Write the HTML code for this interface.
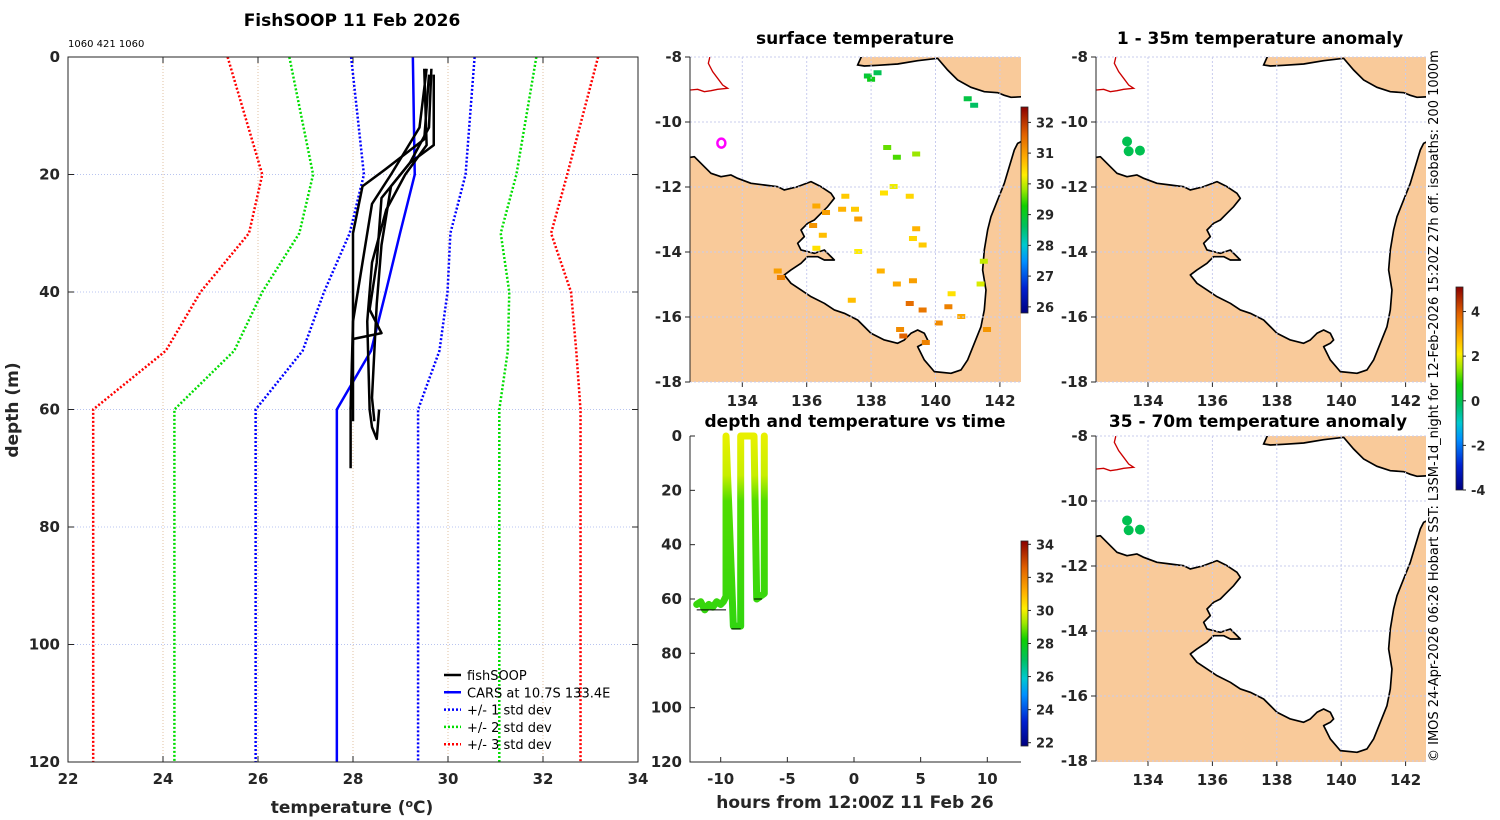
<!DOCTYPE html>
<html><head><meta charset="utf-8"><style>
html,body{margin:0;padding:0;background:#fff;}
svg{display:block;font-family:"DejaVu Sans","Liberation Sans",sans-serif;}
.tk{font-size:15px;font-weight:bold;fill:#262626;}
.ttl{font-size:17px;font-weight:bold;fill:#000;}
.lg{font-size:13px;font-weight:normal;fill:#000;}
</style></head><body>
<svg id="s" width="1500" height="820" viewBox="0 0 1500 820" xmlns="http://www.w3.org/2000/svg">
<defs>
<linearGradient id="cmap" x1="0" y1="1" x2="0" y2="0">
<stop offset="0" stop-color="#00007f"/><stop offset="0.12" stop-color="#0020d0"/><stop offset="0.25" stop-color="#0090ff"/><stop offset="0.33" stop-color="#00c8d0"/><stop offset="0.42" stop-color="#00c060"/><stop offset="0.52" stop-color="#10d000"/><stop offset="0.6" stop-color="#a0e800"/><stop offset="0.67" stop-color="#ffee00"/><stop offset="0.75" stop-color="#ffb000"/><stop offset="0.87" stop-color="#e06000"/><stop offset="1" stop-color="#8a0000"/>
</linearGradient>
<linearGradient id="dtg" gradientUnits="userSpaceOnUse" x1="0" y1="436" x2="0" y2="762">
<stop offset="0" stop-color="#e8f000"/><stop offset="0.12" stop-color="#c8ee00"/><stop offset="0.2" stop-color="#50dd00"/><stop offset="1" stop-color="#10cc20"/>
</linearGradient>
<clipPath id="c1"><rect x="690" y="57" width="331" height="325"/></clipPath>
<clipPath id="c2"><rect x="1096" y="57" width="330" height="325"/></clipPath>
<clipPath id="c3"><rect x="1096" y="436" width="330" height="326"/></clipPath>
</defs>
</svg>
<script>
// ---------- data ----------
const depthLevels = [0, 20, 30, 40, 50, 60, 120];
const carsMean = [29.26, 29.3, 28.99, 28.69, 28.38, 27.66, 27.66];
const carsStd = [1.3, 1.07, 1.06, 1.3, 1.44, 1.71, 1.71];
const stdMult = [1, 2, 3];
const stdColors = ['#0000ff', '#00dd00', '#ff0000'];
const prof1Depth = [2, 12, 20, 25, 35, 45, 60, 70];
const prof1Temp = [29.55, 29.4, 28.8, 28.4, 28.2, 28.0, 27.95, 27.95];
const prof2Depth = [3, 14, 19, 22, 30, 45, 55, 62];
const prof2Temp = [29.6, 29.5, 28.7, 28.2, 28.0, 28.0, 28.0, 28.0];
const prof3Depth = [2, 12, 18, 24, 35, 43, 47, 48, 60];
const prof3Temp = [29.65, 29.6, 29.2, 28.6, 28.5, 28.35, 28.6, 28.0, 27.95];
const prof4Depth = [2, 15, 20, 26, 35, 45, 60, 63, 65, 60];
const prof4Temp = [29.5, 29.55, 29.1, 28.7, 28.4, 28.3, 28.35, 28.4, 28.5, 28.55];
const prof5Depth = [3, 15, 18, 22, 32, 42, 50, 58, 62];
const prof5Temp = [29.7, 29.7, 29.2, 28.8, 28.6, 28.5, 28.45, 28.4, 28.45];
const tempTicks = [22, 24, 26, 28, 30, 32, 34];
const depthTicks = [0, 20, 40, 60, 80, 100, 120];
const lonTicks = [134, 136, 138, 140, 142];
const latTicks = [-8, -10, -12, -14, -16, -18];
const hourTicks = [-10, -5, 0, 5, 10];
const trackHours = [-11.8, -11.5, -11.2, -10.9, -10.6, -10.3, -10.0, -9.8, -9.6, -9.6, -9.05, -8.5, -8.5, -7.5, -7.3, -6.73, -6.73];
const trackDepth = [62, 61, 64, 62, 63, 61, 62, 61, 59, 0, 70, 70, 0, 0, 60, 58, 0];
const sstLon = [137.9,138.0,138.2,139.3,139.4,139.6,141.2,141.0,138.5,138.8,139.4,136.3,136.6,137.1,137.5,137.6,138.4,138.7,139.2,136.2,136.5,137.2,137.6,138.3,138.8,139.3,140.5,139.2,139.6,140.4,140.8,137.4,138.9,139.0,139.7,141.4,141.5,140.1,135.1,135.2,136.3,141.6];
const sstLat = [-8.6,-8.7,-8.5,-13.6,-13.3,-13.8,-9.5,-9.3,-10.8,-11.1,-11.0,-12.6,-12.8,-12.7,-12.7,-13.0,-12.2,-12.0,-12.3,-13.2,-13.5,-12.3,-14.0,-14.6,-15.0,-14.9,-15.3,-15.6,-15.8,-15.7,-16.0,-15.5,-16.4,-16.6,-16.8,-15.0,-14.3,-16.2,-14.6,-14.8,-13.9,-16.4];
const sstVal = [28.9,29.1,28.7,30.5,30.8,30.6,28.6,28.8,29.6,29.5,29.8,30.9,31.0,30.8,30.6,31.0,30.4,30.2,30.5,31.1,30.7,30.6,30.3,30.8,30.9,31.0,30.4,31.5,31.4,31.3,30.9,30.7,31.2,31.6,31.3,30.1,30.0,31.2,31.0,31.3,30.4,31.1];
const anomLon = [133.35, 133.4, 133.75];
const anomLatTop = [-10.6, -10.9, -10.88];
const anomLatBot = [-10.6, -10.9, -10.88];
const sstCbTicks = [26, 27, 28, 29, 30, 31, 32];
const dtCbTicks = [22, 24, 26, 28, 30, 32, 34];
const anCbTicks = [-4, -2, 0, 2, 4];

// ---------- helpers ----------
const S = document.getElementById('s');
const NS = 'http://www.w3.org/2000/svg';
function mk(tag, at, parent) {
  const e = document.createElementNS(NS, tag);
  for (const k in at) e.setAttribute(k, at[k]);
  (parent || S).appendChild(e);
  return e;
}
function txt(x, y, s, cls, anchor, parent) {
  const t = mk('text', {x: x, y: y, class: cls, 'text-anchor': anchor || 'middle'}, parent);
  t.textContent = s;
  return t;
}
const cstops = [[0,[0,0,127]],[0.12,[0,32,208]],[0.25,[0,144,255]],[0.33,[0,200,208]],[0.42,[0,192,96]],[0.52,[16,208,0]],[0.6,[160,232,0]],[0.67,[255,238,0]],[0.75,[255,176,0]],[0.87,[224,96,0]],[1,[138,0,0]]];
function cmap(f) {
  f = Math.max(0, Math.min(1, f));
  for (let i = 1; i < cstops.length; i++) {
    if (f <= cstops[i][0]) {
      const a = cstops[i-1], b = cstops[i], u = (f - a[0]) / (b[0] - a[0]);
      const c = a[1].map((v, j) => Math.round(v + (b[1][j] - v) * u));
      return 'rgb(' + c.join(',') + ')';
    }
  }
  return 'rgb(138,0,0)';
}

// ---------- left profile chart ----------
const X = t => 68 + (t - 22) * 47.5;
const Y = d => 57 + d * 705 / 120;
let t0 = txt(352, 26, 'FishSOOP 11 Feb 2026', 'ttl');


let t1 = txt(68, 47, '1060 421 1060', 'lg', 'start');
t1.setAttribute('style', 'font-size:10px');


tempTicks.forEach(v => {
  const g = mk('line', {x1: X(v), x2: X(v), y1: 57, y2: 762, stroke: '#e0c0a0', 'stroke-width': 1, 'stroke-dasharray': '1,2'});
  
  
  mk('line', {x1: X(v), x2: X(v), y1: 762, y2: 756, stroke: '#262626'});
  mk('line', {x1: X(v), x2: X(v), y1: 57, y2: 63, stroke: '#262626'});
  const l = txt(X(v), 784, String(v), 'tk');
  
  
});
depthTicks.forEach(v => {
  const g = mk('line', {x1: 68, x2: 638, y1: Y(v), y2: Y(v), stroke: '#b8c4f0', 'stroke-width': 1, 'stroke-dasharray': '1,2'});
  
  
  mk('line', {x1: 68, x2: 74, y1: Y(v), y2: Y(v), stroke: '#262626'});
  mk('line', {x1: 638, x2: 632, y1: Y(v), y2: Y(v), stroke: '#262626'});
  const l = txt(60, Y(v) + 5, String(v), 'tk', 'end');
  
  
});
stdMult.forEach((k, i) => {
  [-1, 1].forEach(sg => {
    const pts = depthLevels.map((d, j) => X(carsMean[j] + sg * k * carsStd[j]) + ',' + Y(d)).join(' ');
    const p = mk('polyline', {points: pts, fill: 'none', stroke: stdColors[i], 'stroke-width': 2.5, 'stroke-dasharray': '2,2'});
    
    
  });
});
const cars = mk('polyline', {points: depthLevels.map((d, j) => X(carsMean[j]) + ',' + Y(d)).join(' '), fill: 'none', stroke: '#0000ff', 'stroke-width': 2.5});


[[prof1Depth, prof1Temp], [prof2Depth, prof2Temp], [prof3Depth, prof3Temp], [prof4Depth, prof4Temp], [prof5Depth, prof5Temp]].forEach((p, i) => {
  const pl = mk('polyline', {points: p[0].map((d, j) => X(p[1][j]) + ',' + Y(d)).join(' '), fill: 'none', stroke: '#000', 'stroke-width': 2.5, 'stroke-linejoin': 'round'});
  
  
});
const fr = mk('rect', {x: 68, y: 57, width: 570, height: 705, fill: 'none', stroke: '#262626', 'stroke-width': 1});


const xl = mk('text', {x: 352, y: 813, class: 'tk', 'text-anchor': 'middle', style: 'font-size:17px'});
xl.innerHTML = 'temperature (<tspan dy="-6" style="font-size:11px">o</tspan><tspan dy="6">C)</tspan>';


const yl = mk('text', {x: 0, y: 0, class: 'tk', 'text-anchor': 'middle', style: 'font-size:17px', transform: 'translate(18,410) rotate(-90)'});
yl.textContent = 'depth (m)';


// legend
const legLabels = ['fishSOOP', 'CARS at 10.7S 133.4E', '+/- 1 std dev', '+/- 2 std dev', '+/- 3 std dev'];
const legCols = ['#000', '#0000ff', '#0000ff', '#00dd00', '#ff0000'];
legLabels.forEach((s, i) => {
  const y = 675 + i * 17.3;
  const ln = mk('line', {x1: 444, x2: 461, y1: y, y2: y, stroke: legCols[i], 'stroke-width': 2.5, 'stroke-dasharray': i > 1 ? '2,2' : 'none'});
  
  
  const t = txt(467, y + 5, s, 'lg', 'start');
  
  
});

// ---------- maps ----------
const landMain = 'M-30,330 L30,320 60,350 80,370 110,380 140,375 160,385 200,400 240,405 280,410 300,420 340,410 380,395 410,410 440,430 450,445 430,470 410,490 390,510 370,520 350,540 360,560 340,580 350,600 390,610 420,600 440,620 450,630 420,630 400,620 370,620 350,640 320,660 300,675 320,700 350,720 380,740 420,760 450,780 480,790 520,810 540,830 560,850 600,870 640,880 660,870 680,850 700,840 720,850 730,870 720,880 700,890 720,930 750,965 800,970 830,960 850,930 870,880 890,830 900,780 905,720 895,660 900,600 910,540 920,500 940,450 960,400 975,350 990,300 1000,280 1020,270 L1020,1010 L-30,1010 Z';
const landTop = 'M520,45 L540,0 L1020,0 L1020,140 980,142 960,136 940,128 900,125 860,112 820,90 790,60 760,25 700,32 640,42 580,46 540,48 Z';
const redCoast = '18,120 40,118 60,125 80,122 100,118 130,115 115,105 100,85 85,65 72,40 78,15 90,5';
function drawMap(L, T, clip, name) {
  const g = mk('g', {'clip-path': 'url(#' + clip + ')'});
  
  
  mk('rect', {x: L, y: T, width: 331, height: 326, fill: '#fff'}, g);
  const gi = mk('g', {transform: 'translate(' + L + ',' + T + ') scale(0.3333) translate(-17,-21)'}, g);
  const lm = mk('path', {d: landMain, fill: '#f9ca9a', stroke: '#000', 'stroke-width': 5, 'stroke-linejoin': 'round'}, gi);
  
  
  const lt = mk('path', {d: landTop, fill: '#f9ca9a', stroke: '#000', 'stroke-width': 5}, gi);
  
  
  const rc = mk('polyline', {points: redCoast, fill: 'none', stroke: '#cc0000', 'stroke-width': 4}, gi);
  
  
  return g;
}
function mapAxes(L, T, lonX0, showLon) {
  const lx = lon => lonX0 + (lon - 134) * 32.2;
  const ly = lat => T + (-8 - lat) * 32.5;
  lonTicks.forEach(v => {
    const g = mk('line', {x1: lx(v), x2: lx(v), y1: T, y2: T + 325, stroke: '#c8ccee', 'stroke-dasharray': '2,2'});
    
    
    mk('line', {x1: lx(v), x2: lx(v), y1: T + 325, y2: T + 330, stroke: '#262626'});
    if (showLon) {
      const l = txt(lx(v), T + 349, String(v), 'tk');
      
      
    }
  });
  latTicks.forEach(v => {
    const g = mk('line', {x1: L, x2: L + 331, y1: ly(v), y2: ly(v), stroke: '#c8ccee', 'stroke-dasharray': '2,2'});
    
    
    mk('line', {x1: L - 5, x2: L, y1: ly(v), y2: ly(v), stroke: '#262626'});
    const l = txt(L - 8, ly(v) + 5, String(v), 'tk', 'end');
    
    
  });
  mk('line', {x1: L, x2: L, y1: T, y2: T + 325, stroke: '#262626'});
  return {lx: lx, ly: ly};
}
function colorbar(x, y0, y1, vmin, vmax, ticks, name) {
  const r = mk('rect', {x: x, y: y0, width: 7, height: y1 - y0, fill: 'url(#cmap)', stroke: '#262626', 'stroke-width': 0.8});
  
  
  ticks.forEach(v => {
    const yy = y1 - (v - vmin) / (vmax - vmin) * (y1 - y0);
    mk('line', {x1: x + 7, x2: x + 10, y1: yy, y2: yy, stroke: '#262626'});
    const l = txt(x + 15, yy + 5, String(v), 'tk', 'start');
    l.setAttribute('style', 'font-size:13px');
    
    
  });
}
// map 1: surface temperature
const m1 = drawMap(690, 57, 'c1', 'sst-map');
const ax1 = mapAxes(690, 57, 742.3, true);
sstLon.forEach((lon, i) => {
  const c = cmap((sstVal[i] - 25.8) / (32.5 - 25.8));
  const r = mk('rect', {x: ax1.lx(sstLon[i]) - 4, y: ax1.ly(sstLat[i]) - 3, width: 8, height: 5, fill: c}, m1);
  
  
});
const mag = mk('ellipse', {cx: ax1.lx(133.35), cy: ax1.ly(-10.65), rx: 4, ry: 4.5, fill: 'none', stroke: '#ff00ff', 'stroke-width': 2.5});


let tt = txt(855, 44, 'surface temperature', 'ttl');


colorbar(1021, 107, 313, 25.8, 32.5, sstCbTicks, 'sst-colorbar');

// maps 2 and 3: anomalies
drawMap(1096, 57, 'c2', 'anomaly-map-1-35m');
const ax2 = mapAxes(1096, 57, 1148, true);
anomLon.forEach((lon, i) => {
  const c = mk('circle', {cx: ax2.lx(anomLon[i]), cy: ax2.ly(anomLatTop[i]), r: 5, fill: '#00c050'});
  
  
});
tt = txt(1260, 44, '1 - 35m temperature anomaly', 'ttl');


drawMap(1096, 436, 'c3', 'anomaly-map-35-70m');
const ax3 = mapAxes(1096, 436, 1148, true);
anomLon.forEach((lon, i) => {
  const c = mk('circle', {cx: ax3.lx(anomLon[i]), cy: ax3.ly(anomLatBot[i]), r: 5, fill: '#00c050'});
  
  
});
tt = txt(1258, 427, '35 - 70m temperature anomaly', 'ttl');


colorbar(1456, 287, 490, -4, 5.1, anCbTicks, 'anomaly-colorbar');

// ---------- depth vs time ----------
const HX = h => 854 + h * 13.33;
const HY = d => 436 + d * 326 / 120;
const tr = mk('polyline', {points: trackHours.map((h, i) => HX(h) + ',' + HY(trackDepth[i])).join(' '), fill: 'none', stroke: 'url(#dtg)', 'stroke-width': 7, 'stroke-linejoin': 'round', 'stroke-linecap': 'round'});


[[-11.8, 64, -9.6], [-9.2, 71, -8.5], [-7.5, 60, -6.9]].forEach(b => {
  const l = mk('line', {x1: HX(b[0]), x2: HX(b[2]), y1: HY(b[1]), y2: HY(b[1]), stroke: '#000', 'stroke-width': 1});
  
  
});
depthTicks.forEach(v => {
  mk('line', {x1: 690, x2: 695, y1: HY(v), y2: HY(v), stroke: '#262626'});
  const l = txt(682, HY(v) + 5, String(v), 'tk', 'end');
  
  
});
hourTicks.forEach(v => {
  mk('line', {x1: HX(v), x2: HX(v), y1: 762, y2: 757, stroke: '#262626'});
  const l = txt(HX(v), 784, String(v), 'tk');
  
  
});
const dax = mk('polyline', {points: '690,436 690,762 1021,762', fill: 'none', stroke: '#262626'});


tt = txt(855, 427, 'depth and temperature vs time', 'ttl');


tt = txt(855, 808, 'hours from 12:00Z 11 Feb 26', 'tk');
tt.setAttribute('style', 'font-size:17px');


colorbar(1021, 541, 746, 21.8, 34.2, dtCbTicks, 'dt-colorbar');

// ---------- credit ----------
const cr = mk('text', {x: 0, y: 0, transform: 'translate(1438,762) rotate(-90)', style: 'font-size:13px;fill:#000'});
cr.textContent = '\u00a9 IMOS 24-Apr-2026 06:26 Hobart SST: L3SM-1d_night for 12-Feb-2026 15:20Z 27h off. isobaths: 200  1000m';


</script>
</body></html>
